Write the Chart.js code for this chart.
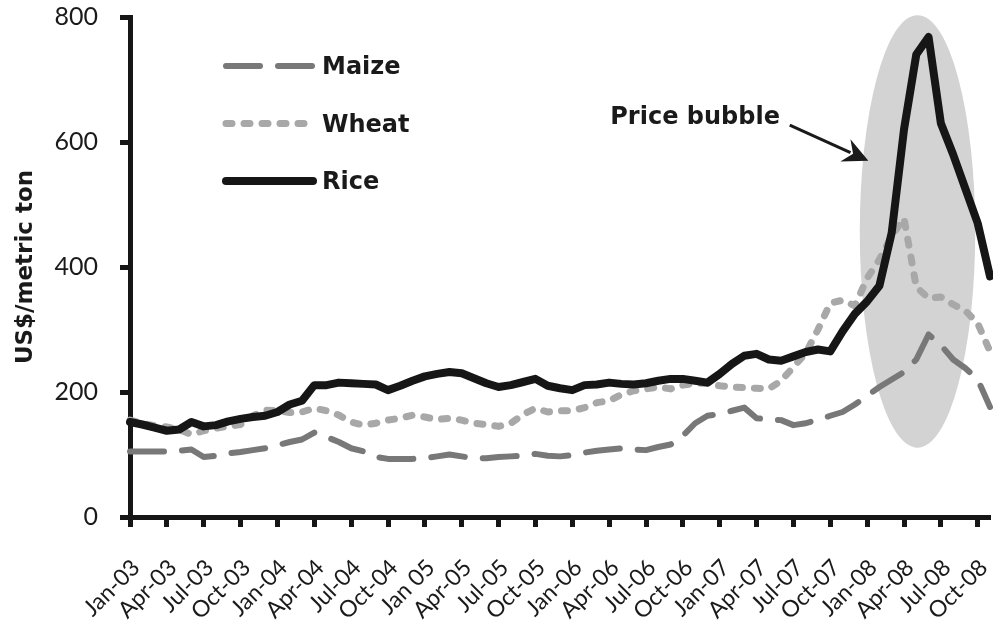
<!DOCTYPE html>
<html>
<head>
<meta charset="utf-8">
<script src="https://cdn.jsdelivr.net/npm/chart.js@4.4.1/dist/chart.umd.min.js"></script>
<style>
  html, body { margin: 0; padding: 0; background: #fff; }
  #wrap { width: 993px; height: 630px; }
</style>
</head>
<body>
<div id="wrap"><canvas id="priceChart" width="993" height="630"></canvas></div>
<script>
// months Jan-03 .. Nov-08, only every third one gets a label on the axis
const months = [
  'Jan-03','Feb-03','Mar-03','Apr-03','May-03','Jun-03','Jul-03','Aug-03','Sep-03','Oct-03','Nov-03','Dec-03',
  'Jan-04','Feb-04','Mar-04','Apr-04','May-04','Jun-04','Jul-04','Aug-04','Sep-04','Oct-04','Nov-04','Dec-04',
  'Jan 05','Feb-05','Mar-05','Apr-05','May-05','Jun-05','Jul-05','Aug-05','Sep-05','Oct-05','Nov-05','Dec-05',
  'Jan-06','Feb-06','Mar-06','Apr-06','May-06','Jun-06','Jul-06','Aug-06','Sep-06','Oct-06','Nov-06','Dec-06',
  'Jan-07','Feb-07','Mar-07','Apr-07','May-07','Jun-07','Jul-07','Aug-07','Sep-07','Oct-07','Nov-07','Dec-07',
  'Jan-08','Feb-08','Mar-08','Apr-08','May-08','Jun-08','Jul-08','Aug-08','Sep-08','Oct-08','Nov-08'
];

const maize = [
  105, 105, 105, 105, 106, 108, 96, 98, 102, 104, 107, 110,
  115, 120, 124, 135, 128, 120, 110, 105, 96, 93, 93, 93,
  94, 97, 100, 97, 94, 94, 96, 97, 98, 101, 98, 97,
  99, 103, 106, 108, 110, 108, 107, 112, 116, 130, 150, 162,
  165, 170, 175, 158, 156, 155, 147, 150, 156, 162, 168, 180,
  194, 208, 220, 232, 252, 292, 275, 252, 238, 220, 176
];

const wheat = [
  155, 150, 146, 144, 140, 132, 138, 142, 145, 148, 162, 171,
  170, 167, 168, 174, 170, 163, 152, 147, 150, 155, 158, 163,
  160, 156, 158, 155, 150, 148, 145, 150, 164, 174, 168, 170,
  170, 175, 183, 186, 196, 202, 205, 208, 205, 211, 214, 214,
  210, 208, 207, 206, 205, 218, 240, 262, 300, 342, 347, 338,
  382, 412, 450, 478, 368, 350, 352, 340, 330, 310, 265
];

const rice = [
  152, 148, 143, 138, 140, 152, 145, 147, 153, 157, 160, 162,
  168, 180, 186, 211, 211, 215, 214, 213, 212, 203, 210, 218,
  225, 229, 232, 230, 222, 214, 208, 211, 216, 221, 210, 206,
  203, 211, 212, 215, 213, 212, 214, 218, 221, 221, 218, 215,
  229, 245, 258, 261, 252, 250, 257, 264, 268, 265, 297, 325,
  345, 370, 455, 620, 740, 768, 630, 580, 525, 470, 385
];

const yTicks = [0, 200, 400, 600, 800];

// annotation, in data units (month index, US$)
const bubble = { x: 64.1, y: 457, rx: 4.7, ry: 346 };
const note = { text: 'Price bubble', x: 52.9, y: 638 };
const arrow = { x1: 53.7, y1: 627, x2: 60.1, y2: 570 };

const TICK_FONT = 'Lato';
const BOLD_FONT = '"DejaVu Sans"';

const bubblePlugin = {
  id: 'bubble',
  beforeDatasetsDraw(chart) {
    const { ctx, scales: { x, y } } = chart;
    const cx = x.getPixelForValue(bubble.x);
    const cy = y.getPixelForValue(bubble.y);
    const rx = x.getPixelForValue(bubble.x + bubble.rx) - cx;
    const ry = cy - y.getPixelForValue(bubble.y + bubble.ry);
    ctx.save();
    ctx.fillStyle = '#d3d3d3';
    ctx.beginPath();
    ctx.ellipse(cx, cy, rx, ry, 0, 0, Math.PI * 2);
    ctx.fill();
    ctx.restore();
  },
  afterDatasetsDraw(chart) {
    const { ctx, scales: { x, y } } = chart;
    ctx.save();
    // label
    ctx.font = 'bold 24px ' + BOLD_FONT;
    ctx.fillStyle = '#1a1a1a';
    ctx.textAlign = 'right';
    ctx.textBaseline = 'middle';
    ctx.fillText(note.text, x.getPixelForValue(note.x), y.getPixelForValue(note.y));
    // arrow
    const ax1 = x.getPixelForValue(arrow.x1), ay1 = y.getPixelForValue(arrow.y1);
    const ax2 = x.getPixelForValue(arrow.x2), ay2 = y.getPixelForValue(arrow.y2);
    const ang = Math.atan2(ay2 - ay1, ax2 - ax1);
    const headLen = 28;
    ctx.strokeStyle = '#1a1a1a';
    ctx.lineWidth = 3;
    ctx.beginPath();
    ctx.moveTo(ax1, ay1);
    ctx.lineTo(ax2 - Math.cos(ang) * headLen * 0.7, ay2 - Math.sin(ang) * headLen * 0.7);
    ctx.stroke();
    ctx.fillStyle = '#1a1a1a';
    ctx.beginPath();
    ctx.moveTo(ax2, ay2);
    ctx.lineTo(ax2 - headLen * Math.cos(ang - 0.45), ay2 - headLen * Math.sin(ang - 0.45));
    ctx.lineTo(ax2 - headLen * 0.6 * Math.cos(ang), ay2 - headLen * 0.6 * Math.sin(ang));
    ctx.lineTo(ax2 - headLen * Math.cos(ang + 0.45), ay2 - headLen * Math.sin(ang + 0.45));
    ctx.closePath();
    ctx.fill();
    ctx.restore();
  }
};

// legend drawn inside the plot, top left, with the dataset line styles
const lineLegend = {
  id: 'lineLegend',
  afterDraw(chart) {
    const { ctx, chartArea } = chart;
    const x0 = chartArea.left + 96, x1 = chartArea.left + 183;
    ctx.save();
    chart.data.datasets.forEach((ds, i) => {
      const yy = chartArea.top + 49 + i * 57.5;
      ctx.strokeStyle = ds.borderColor;
      ctx.lineWidth = ds.borderWidth;
      ctx.lineCap = 'round';
      ctx.setLineDash(ds.borderDash || []);
      ctx.beginPath();
      ctx.moveTo(x0, yy);
      ctx.lineTo(x1, yy);
      ctx.stroke();
      ctx.setLineDash([]);
      ctx.font = 'bold 24px ' + BOLD_FONT;
      ctx.fillStyle = '#1a1a1a';
      ctx.textAlign = 'left';
      ctx.textBaseline = 'middle';
      ctx.fillText(ds.label, x1 + 9, yy + 2);
    });
    ctx.restore();
  }
};

new Chart(document.getElementById('priceChart'), {
  type: 'line',
  data: {
    labels: months,
    datasets: [
      { label: 'Maize', data: maize, borderColor: '#787878', borderWidth: 6, borderDash: [34, 18], order: 2 },
      { label: 'Wheat', data: wheat, borderColor: '#a8a8a8', borderWidth: 7, borderDash: [6, 12], order: 1 },
      { label: 'Rice', data: rice, borderColor: '#161616', borderWidth: 8, order: 0 }
    ]
  },
  options: {
    responsive: false,
    animation: false,
    devicePixelRatio: 1,
    layout: { padding: { left: 0, top: 17, right: 3, bottom: 0 } },
    elements: {
      point: { radius: 0 },
      line: { tension: 0, borderCapStyle: 'round', borderJoinStyle: 'round', fill: false }
    },
    plugins: {
      legend: { display: false },
      tooltip: { enabled: false }
    },
    scales: {
      x: {
        offset: false,
        afterFit(scale) { scale.height = 113; scale.paddingLeft = 0; scale.paddingRight = 0; },
        border: { display: true, color: '#161616', width: 5 },
        grid: { drawOnChartArea: false, drawTicks: true, tickLength: 10, tickWidth: 5, tickColor: '#161616' },
        ticks: {
          autoSkip: false,
          maxRotation: 45,
          minRotation: 45,
          padding: 27,
          labelOffset: 6,
          color: '#1a1a1a',
          font: { family: TICK_FONT, size: 23 },
          callback: (v, i) => (i % 3 === 0 ? months[i] : null)
        }
      },
      y: {
        min: 0,
        max: 800,
        afterFit(scale) { scale.width = 130; scale.paddingTop = 0; scale.paddingBottom = 0; },
        afterBuildTicks(scale) { scale.ticks = yTicks.map(v => ({ value: v })); },
        border: { display: true, color: '#161616', width: 5 },
        grid: { drawOnChartArea: false, drawTicks: true, tickLength: 10, tickWidth: 5, tickColor: '#161616' },
        ticks: {
          padding: 22,
          color: '#1a1a1a',
          font: { family: TICK_FONT, size: 25 }
        },
        title: {
          display: true,
          text: 'US$/metric ton',
          color: '#1a1a1a',
          font: { family: 'DejaVu Sans', size: 23, weight: 'bold' },
          padding: { top: 12, bottom: 0 }
        }
      }
    }
  },
  plugins: [bubblePlugin, lineLegend]
});
</script>
</body>
</html>
